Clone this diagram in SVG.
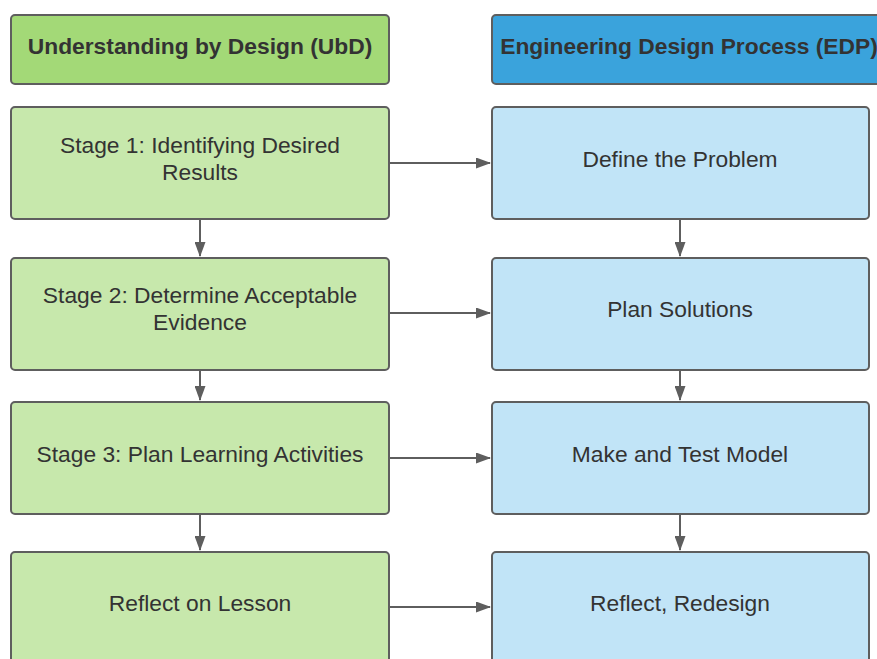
<svg xmlns="http://www.w3.org/2000/svg" width="877" height="659" viewBox="0 0 877 659">
<defs>
<style>
.box{stroke:#5e5e5e;stroke-width:2}
.hg{fill:#a3d977}.g{fill:#c7e8ac}.hb{fill:#3aa3dc}.b{fill:#c1e4f7}
text{font-family:"Liberation Sans",Arial,sans-serif;fill:#333;text-anchor:middle;font-size:22.8px}
.h{font-weight:bold}
.c{stroke:#5e5e5e;stroke-width:2;fill:none;marker-end:url(#ah)}
</style>
<marker id="ah" markerWidth="15" markerHeight="11" refX="14" refY="5.5" orient="auto" markerUnits="userSpaceOnUse">
<path d="M0,0 L15,5.5 L0,11 Z" fill="#5e5e5e"/>
</marker>
</defs>
<rect width="877" height="659" fill="#fff"/>
<g id="connectors">
<path class="c" d="M390,163 H490"/>
<path class="c" d="M390,313 H490"/>
<path class="c" d="M390,458 H490"/>
<path class="c" d="M390,607 H490"/>
<path class="c" d="M200,220 V256"/>
<path class="c" d="M200,371 V400"/>
<path class="c" d="M200,515 V550"/>
<path class="c" d="M680,220 V256"/>
<path class="c" d="M680,371 V400"/>
<path class="c" d="M680,515 V550"/>
</g>
<g id="ubd-header"><rect class="box hg" x="11" y="15" width="378" height="69" rx="4"/><text class="h" x="200" y="54">Understanding by Design (UbD)</text></g>
<g id="edp-header"><rect class="box hb" x="492" y="15" width="400" height="69" rx="4"/><text class="h" x="689" y="54">Engineering Design Process (EDP)</text></g>
<g id="stage1"><rect class="box g" x="11" y="107" width="378" height="112" rx="4"/><text x="200" y="153">Stage 1: Identifying Desired</text><text x="200" y="180">Results</text></g>
<g id="define"><rect class="box b" x="492" y="107" width="377" height="112" rx="4"/><text x="680" y="167">Define the Problem</text></g>
<g id="stage2"><rect class="box g" x="11" y="258" width="378" height="112" rx="4"/><text x="200" y="303">Stage 2: Determine Acceptable</text><text x="200" y="330">Evidence</text></g>
<g id="plan"><rect class="box b" x="492" y="258" width="377" height="112" rx="4"/><text x="680" y="317">Plan Solutions</text></g>
<g id="stage3"><rect class="box g" x="11" y="402" width="378" height="112" rx="4"/><text x="200" y="462">Stage 3: Plan Learning Activities</text></g>
<g id="make"><rect class="box b" x="492" y="402" width="377" height="112" rx="4"/><text x="680" y="462">Make and Test Model</text></g>
<g id="reflect-lesson"><rect class="box g" x="11" y="552" width="378" height="120" rx="4"/><text x="200" y="611">Reflect on Lesson</text></g>
<g id="reflect-redesign"><rect class="box b" x="492" y="552" width="377" height="120" rx="4"/><text x="680" y="611">Reflect, Redesign</text></g>
</svg>
